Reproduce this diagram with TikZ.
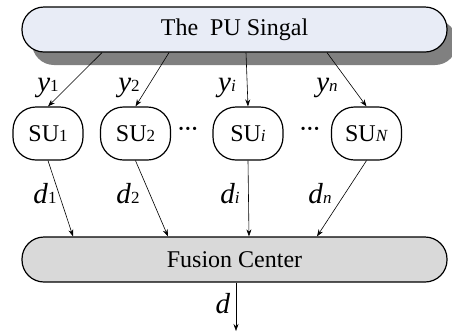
\documentclass[tikz,border=0pt]{standalone}
\usepackage{fontspec}
\setmainfont{Liberation Serif}
\usetikzlibrary{shadows,arrows.meta}

\definecolor{pufill}{HTML}{E8ECF6}
\definecolor{fcfill}{HTML}{D9D9D9}

\tikzstyle{bar} = [draw, line width=1.2pt, rounded corners=22pt, minimum width=425pt, minimum height=45pt, font=\fontsize{24}{24}\selectfont]
\tikzstyle{su} = [draw, line width=1.2pt, rounded corners=23pt, minimum width=70pt, minimum height=53pt, font=\fontsize{24}{24}\selectfont]
\tikzstyle{sig} = [-{Stealth[length=7pt,width=5pt]}, line width=0.6pt]
\tikzstyle{var} = [anchor=base, inner sep=0pt, font=\fontsize{29}{29}\selectfont]
\tikzstyle{dots} = [inner sep=0pt, font=\fontsize{20}{20}\selectfont\bfseries]

\newcommand{\subtxt}[1]{{\fontsize{17}{17}\selectfont #1}}

\begin{document}
\begin{tikzpicture}[x=1pt, y=-1pt]
\useasboundingbox (0,0) rectangle (452,333);
%primary user
\node[bar, fill=pufill, drop shadow={shadow xshift=10pt, shadow yshift=-13pt, fill=black!50, opacity=1}] (pu) at (234.5,29.5) {The~ PU Singal};
%secondary users
\node[su] (su1) at (48,133.5) {SU\subtxt{1}};
\node[su] (su2) at (135.5,133.5) {SU\subtxt{2}};
\node[su] (sui) at (248,133.5) {SU\subtxt{\textit{i}}};
\node[su] (sun) at (366.5,133.5) {SU\subtxt{\textit{N}}};
\node[dots] (dota) at (188,131) {···};
\node[dots] (dotb) at (310,131) {···};
%fusion center
\node[bar, fill=fcfill] (fc) at (234.5,259.5) {Fusion Center};
\coordinate (out) at (236,331);
%sensing
\draw[sig] ([xshift=-132.5pt]pu.south) -- (su1.north);
\draw[sig] ([xshift=-65.5pt]pu.south) -- (su2.north);
\draw[sig] ([xshift=11.5pt]pu.south) -- (sui.north);
\draw[sig] ([xshift=92.5pt]pu.south) -- (sun.north);
\node[var] (y1) at (48,91) {\textit{y}\subtxt{1}};
\node[var] (y2) at (129,91) {\textit{y}\subtxt{2}};
\node[var] (yi) at (227,91) {\textit{y}\subtxt{\textit{i}}};
\node[var] (yn) at (327,91) {\textit{y}\subtxt{\textit{n}}};
%local decisions
\draw[sig] (su1.south) -- ([xshift=-161.5pt]fc.north);
\draw[sig] (su2.south) -- ([xshift=-66.5pt]fc.north);
\draw[sig] (sui.south) -- ([xshift=14.5pt]fc.north);
\draw[sig] (sun.south) -- ([xshift=82.5pt]fc.north);
\node[var] (d1) at (45,203) {\textit{d}\subtxt{1}};
\node[var] (d2) at (128,203) {\textit{d}\subtxt{2}};
\node[var] (di) at (230,203) {\textit{d}\subtxt{\textit{i}}};
\node[var] (dn) at (320,203) {\textit{d}\subtxt{\textit{n}}};
%global decision
\draw[sig] ([xshift=1.5pt]fc.south) -- (out);
\node[var] (d) at (223,313) {\textit{d}};
\end{tikzpicture}
\end{document}
